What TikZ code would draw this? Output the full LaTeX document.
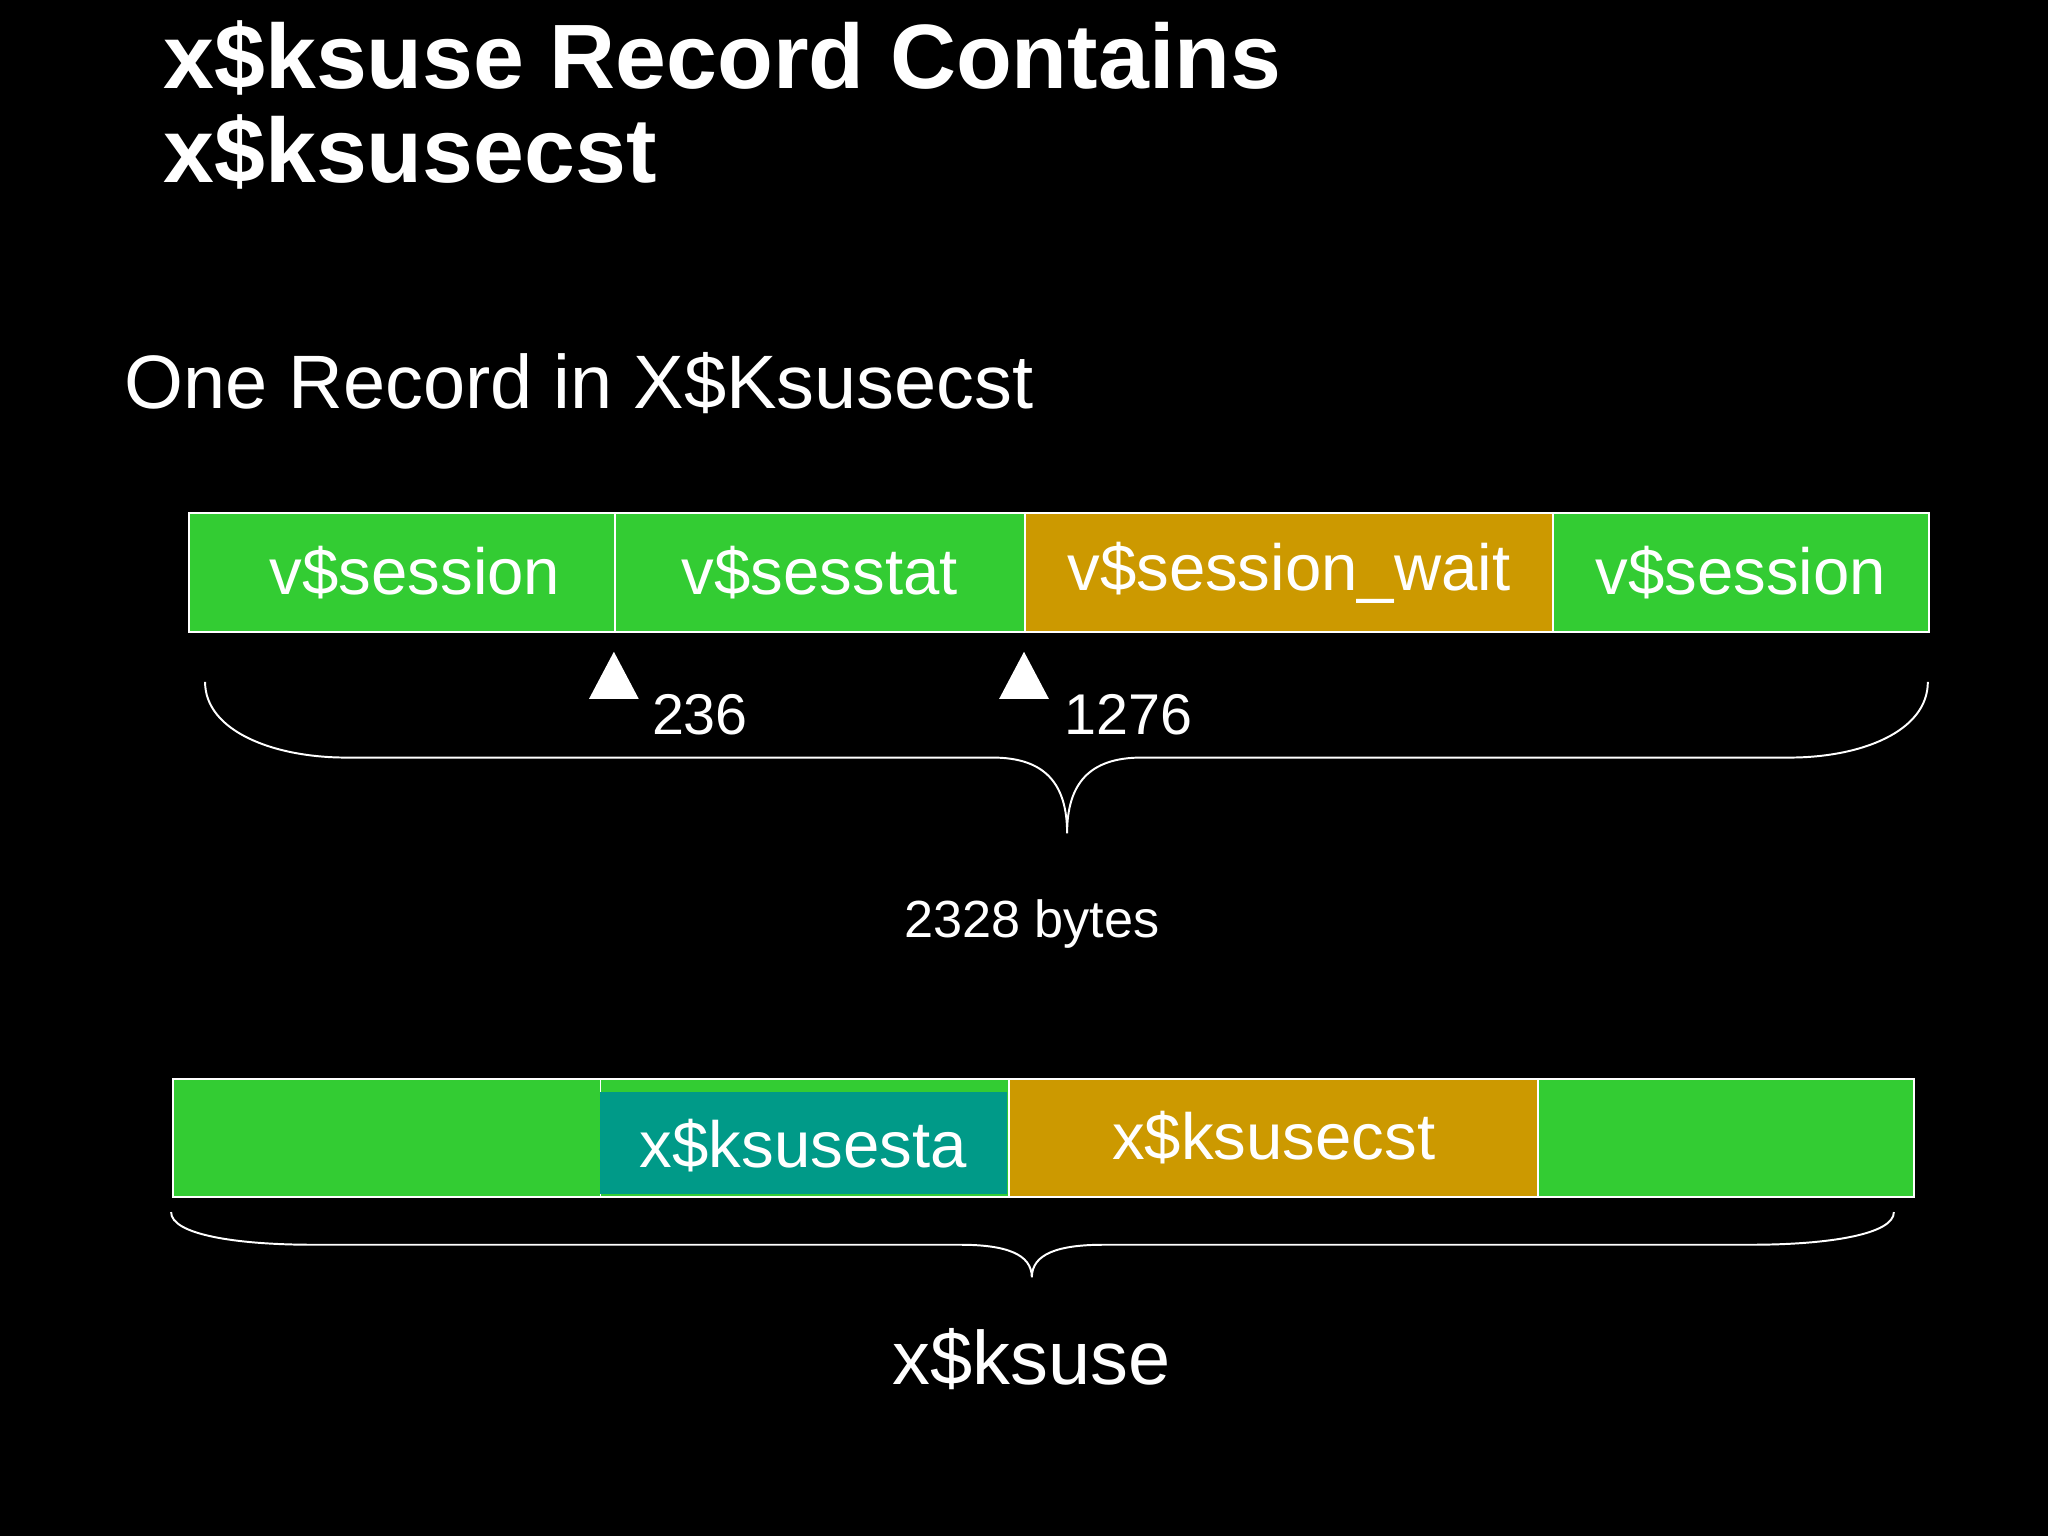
\documentclass[tikz,border=0pt]{standalone}
\usepackage{fontspec}
\setmainfont{Liberation Sans}
\definecolor{gr}{HTML}{33CC33}
\definecolor{og}{HTML}{CC9900}
\definecolor{tl}{HTML}{009A88}
\begin{document}
\begin{tikzpicture}[x=1pt,y=-1pt,
 cell/.style={draw=white,line width=1.5pt,inner sep=0pt,anchor=north west,minimum height=91pt,text=white,font=\fontsize{50}{56}\selectfont},
 txt/.style={text=white,inner sep=0pt},
 tri/.style={fill=white,draw=none},
 brace/.style={draw=white,line width=1.5pt}]
\fill[black,use as bounding box] (0,0) rectangle (1568,1176);
\node[txt,anchor=base west,font=\fontsize{70}{74}\bfseries\selectfont] (t1) at (125,68) {x\$ksuse Record Contains};
\node[txt,anchor=base west,font=\fontsize{70}{74}\bfseries\selectfont] (t2) at (125,140) {x\$ksusecst};
\node[txt,anchor=base west,font=\fontsize{58}{60}\selectfont] (sub) at (95,313) {One Record in X\$Ksusecst};
% bar 1
\node[cell,fill=gr,minimum width=326pt] (a1) at (144,392) {\hspace*{20pt}v\$session};
\node[cell,fill=gr,minimum width=314pt] (a2) at (470,392) {v\$sesstat};
\node[cell,fill=og,minimum width=404pt] (a3) at (784,392) {v\$session\_wait};
\node[cell,fill=gr,minimum width=288pt] (a4) at (1188,392) {v\$session};
\fill[tri] (470,499) -- (489,535) -- (451,535) -- cycle;
\fill[tri] (784,499) -- (803,535) -- (765,535) -- cycle;
\node[txt,anchor=base west,font=\fontsize{44}{46}\selectfont] (l1) at (499,562) {236};
\node[txt,anchor=base west,font=\fontsize{44}{46}\selectfont] (l2) at (815,562) {1276};
\draw[brace] (157,522) .. controls (157,560) and (210,580) .. (265,580) -- (760,580) .. controls (800,580) and (817,600) .. (817,638)
 .. controls (817,600) and (834,580) .. (874,580) -- (1370,580) .. controls (1425,580) and (1476,560) .. (1476,522);
\node[txt,anchor=base,font=\fontsize{40}{42}\selectfont] (b1) at (790,718) {2328 bytes};
% bar 2
\node[cell,fill=gr,minimum width=327pt] (c1) at (132,825) {};
\node[cell,fill=gr,minimum width=313pt] (c2) at (459,825) {};
\fill[tl] (459.75,836) rectangle (771.25,914.25);
\node[txt,font=\fontsize{50}{56}\selectfont] (c2t) at (615,877) {x\$ksusesta};
\node[cell,fill=og,minimum width=405pt] (c3) at (772,825) {x\$ksusecst};
\node[cell,fill=gr,minimum width=288pt] (c4) at (1177,825) {};
\draw[brace] (131,928) .. controls (131,945) and (180,953) .. (240,953) -- (735,953) .. controls (770,953) and (790,960) .. (790,978)
 .. controls (790,960) and (810,953) .. (845,953) -- (1340,953) .. controls (1400,953) and (1450,945) .. (1450,928);
\node[txt,anchor=base,font=\fontsize{58}{60}\selectfont] (b2) at (790,1060) {x\$ksuse};
\end{tikzpicture}
\end{document}
